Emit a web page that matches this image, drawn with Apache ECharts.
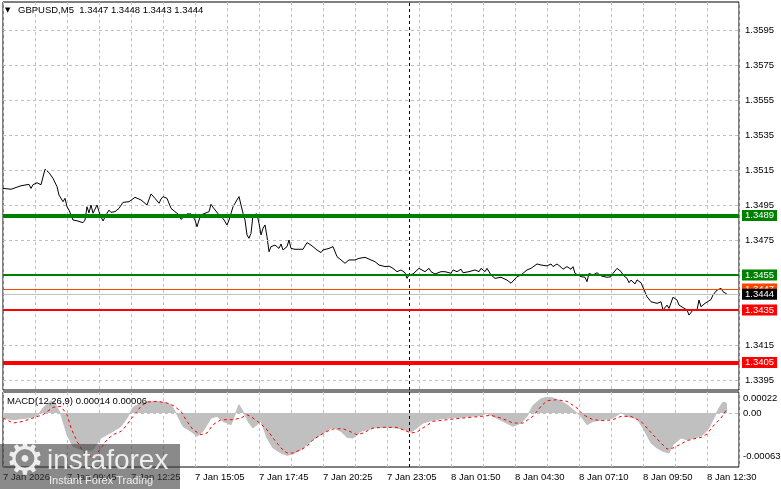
<!DOCTYPE html>
<html><head><meta charset="utf-8">
<script src="https://cdn.jsdelivr.net/npm/echarts@6/dist/echarts.min.js"></script>
<style>html,body{margin:0;padding:0;background:#fff}#c{width:781px;height:489px}</style>
</head><body><div id="c"></div>
<script>
const chartTitle = 'GBPUSD,M5  1.3447 1.3448 1.3443 1.3444';
const macdTitle = 'MACD(12,26,9) 0.00014 0.00006';
const timeLabels = ['7 Jan 2026','7 Jan 09:45','7 Jan 12:25','7 Jan 15:05','7 Jan 17:45','7 Jan 20:25','7 Jan 23:05','8 Jan 01:50','8 Jan 04:30','8 Jan 07:10','8 Jan 09:50','8 Jan 12:30'];
const barsPerLabel = 32;
const priceTicks = [1.3395,1.3415,1.3435,1.3455,1.3475,1.3495,1.3515,1.3535,1.3555,1.3575,1.3595];
const priceBars = [0,4,9,13,14,15,17,19,20,21,
23,24,25,27,28,30,31,32,33,34,
35,37,40,41,42,43,44,45,47,48,
49,50,52,53,54,56,58,60,63,64,
66,67,69,72,74,76,78,79,80,82,
83,84,88,89,92,94,96,97,98,99,
103,104,105,108,110,112,113,115,116,118,
119,120,121,122,123,124,125,126,127,128,
129,130,131,132,133,134,136,138,139,140,
142,143,144,146,150,152,154,155,157,159,
160,161,163,164,165,167,169,171,173,174,
176,178,179,181,184,186,188,189,191,193,
195,197,199,201,202,203,205,208,209,211,
213,214,216,219,221,224,225,227,229,230,
233,234,236,238,239,241,242,244,246,249,
250,252,254,255,257,259,260,262,264,267,
269,270,272,274,275,277,279,280,282,284,
285,286,289,291,292,293,295,297,299,300,
302,304,305,307,309,310,312,313,314,316,
317,319,320,322,324,325,327,329,330,332,
333,335,337,338,339,342,343,345,347,348,
349,351,352,354,355,357,359,360,362];
const priceCloses = [1.35045,1.35040,1.35060,1.35068,1.35045,1.35066,1.35077,1.35066,1.35074,1.35154,
1.35135,1.35146,1.35102,1.35055,1.35007,1.34969,1.34988,1.34940,1.34921,1.34931,
1.34864,1.34860,1.34849,1.34864,1.34940,1.34905,1.34950,1.34903,1.34950,1.34912,
1.34883,1.34859,1.34903,1.34921,1.34908,1.34912,1.34931,1.34965,1.34969,1.34960,
1.34994,1.34998,1.34979,1.34950,1.35013,1.34988,1.34960,1.34984,1.34998,1.34988,
1.34998,1.34931,1.34893,1.34868,1.34899,1.34899,1.34864,1.34826,1.34864,1.34893,
1.34912,1.34954,1.34937,1.34893,1.34874,1.34836,1.34864,1.34940,1.34960,1.34998,
1.34950,1.34903,1.34864,1.34779,1.34760,1.34788,1.34893,1.34899,1.34899,1.34845,
1.34779,1.34817,1.34836,1.34769,1.34683,1.34712,1.34721,1.34702,1.34727,1.34693,
1.34712,1.34750,1.34702,1.34697,1.34697,1.34735,1.34721,1.34712,1.34693,1.34678,
1.34693,1.34683,1.34702,1.34693,1.34712,1.34655,1.34636,1.34617,1.34636,1.34645,
1.34636,1.34645,1.34636,1.34651,1.34636,1.34626,1.34607,1.34607,1.34598,1.34601,
1.34588,1.34569,1.34579,1.34563,1.34531,1.34550,1.34556,1.34588,1.34579,1.34569,
1.34588,1.34569,1.34556,1.34569,1.34569,1.34560,1.34579,1.34569,1.34583,1.34563,
1.34569,1.34569,1.34579,1.34569,1.34588,1.34569,1.34588,1.34550,1.34531,1.34537,
1.34540,1.34521,1.34503,1.34512,1.34540,1.34550,1.34559,1.34579,1.34588,1.34613,
1.34607,1.34617,1.34602,1.34613,1.34598,1.34613,1.34595,1.34583,1.34598,1.34583,
1.34598,1.34559,1.34541,1.34537,1.34512,1.34559,1.34550,1.34563,1.34545,1.34550,
1.34537,1.34540,1.34559,1.34588,1.34570,1.34550,1.34531,1.34506,1.34521,1.34499,
1.34522,1.34506,1.34506,1.34426,1.34397,1.34407,1.34388,1.34397,1.34350,1.34378,
1.34359,1.34423,1.34407,1.34378,1.34369,1.34350,1.34321,1.34350,1.34350,1.34407,
1.34369,1.34388,1.34397,1.34410,1.34436,1.34464,1.34474,1.34455,1.34440];
const macdBars = [0,5,12,17,20,24,26,29,32,35,
39,42,45,49,52,55,59,62,65,69,
74,80,84,87,90,94,97,100,104,107,
110,114,116,118,120,123,125,129,132,135,
139,142,145,149,152,155,159,162,165,169,
172,175,179,182,187,194,199,204,207,210,
214,219,230,239,242,245,250,255,259,262,
265,269,272,275,279,282,285,289,292,295,
300,305,309,312,317,320,324,327,330,333,
335,339,342,347,350,353,355,358,360,362];
const macdValues = [-0.000073,-0.000098,-0.000073,-0.000049,0.000073,0.000181,0.000147,-0.000024,-0.000318,-0.000489,
-0.000537,-0.000562,-0.000537,-0.000366,-0.000318,-0.000269,-0.000195,-0.000073,0.000083,0.000147,
0.000171,0.000161,0.000122,-0.000024,-0.000195,-0.000269,-0.000342,-0.000269,-0.000073,-0.000049,
-0.000122,-0.000171,-0.000024,0.000122,0.000024,-0.000147,-0.000220,-0.000122,-0.000366,-0.000513,
-0.000586,-0.000620,-0.000601,-0.000537,-0.000464,-0.000391,-0.000318,-0.000259,-0.000210,-0.000269,
-0.000357,-0.000366,-0.000269,-0.000244,-0.000210,-0.000210,-0.000230,-0.000278,-0.000220,-0.000147,
-0.000112,-0.000083,-0.000059,-0.000034,-0.000005,-0.000049,-0.000122,-0.000195,-0.000147,-0.000049,
0.000112,0.000210,0.000230,0.000220,0.000171,0.000122,0.000049,-0.000049,-0.000171,-0.000122,
-0.000098,-0.000073,0.000005,-0.000049,-0.000083,-0.000220,-0.000440,-0.000513,-0.000562,-0.000586,
-0.000464,-0.000366,-0.000391,-0.000357,-0.000318,-0.000220,-0.000098,0.000073,0.000160,0.000140];
const signalBars = [0,5,10,15,20,25,29,32,34,37,
40,44,46,49,52,55,59,62,65,69,
72,77,82,85,89,92,95,99,102,105,
109,115,119,122,125,129,132,135,139,142,
145,149,152,155,159,162,165,170,174,177,
180,185,190,197,204,207,210,215,222,230,
239,244,249,255,260,265,269,272,277,282,
287,290,295,300,305,309,314,319,322,325,
329,332,335,339,342,345,349,352,355,359,362];
const signalValues = [-0.000073,-0.000147,-0.000122,-0.000073,-0.000024,0.000083,0.000098,-0.000024,-0.000220,-0.000415,
-0.000562,-0.000635,-0.000635,-0.000513,-0.000391,-0.000318,-0.000269,-0.000171,-0.000049,0.000098,
0.000161,0.000171,0.000147,0.000112,0.000024,-0.000122,-0.000244,-0.000318,-0.000293,-0.000171,
-0.000098,-0.000098,-0.000073,-0.000024,-0.000073,-0.000161,-0.000244,-0.000366,-0.000513,-0.000586,
-0.000586,-0.000537,-0.000489,-0.000391,-0.000318,-0.000269,-0.000234,-0.000230,-0.000278,-0.000318,
-0.000293,-0.000220,-0.000210,-0.000210,-0.000293,-0.000278,-0.000220,-0.000122,-0.000098,-0.000073,
-0.000049,-0.000034,-0.000073,-0.000147,-0.000147,-0.000049,0.000098,0.000181,0.000195,0.000171,
0.000073,-0.000024,-0.000098,-0.000112,-0.000098,-0.000049,-0.000049,-0.000122,-0.000220,-0.000318,
-0.000440,-0.000528,-0.000513,-0.000454,-0.000405,-0.000381,-0.000357,-0.000308,-0.000195,-0.000073,0.000060];
const greenLevels = [1.3489, 1.3455];
const redLevels = [1.3435, 1.3405];
const askPrice = 1.3447;
const bidPrice = 1.3444;
const macdMaxLabel = 0.00022;
const macdMinLabel = -0.00063;
const daySeparatorBar = 203;

const FONT = '"Liberation Sans", Arial, sans-serif';
const chart = echarts.init(document.getElementById('c'), null, {renderer: 'canvas'});

const tickLine = v => ({yAxis: v, lineStyle: {color: '#c0c0c0', type: [3, 3], width: 1},
  label: {show: true, position: 'end', distance: 6, formatter: () => v.toFixed(4), color: '#000', fontSize: 9.5, fontFamily: FONT}});
const levelLine = (v, color, width, bg) => ({yAxis: v, lineStyle: {color: color, type: 'solid', width: width},
  label: {show: true, position: 'end', distance: 3, formatter: () => v.toFixed(4), color: '#fff', fontSize: 9.5, fontFamily: FONT,
    backgroundColor: bg, padding: [1, 3, 0, 3], lineHeight: 10}});

const levelData = [];
levelData.push(levelLine(askPrice, '#ff4500', 1, '#ff4500'));
levelData.push(levelLine(bidPrice, '#c0c0c0', 1, '#000'));
greenLevels.forEach((v, i) => levelData.push(levelLine(v, '#008000', i === 0 ? 4 : 2, '#008000')));
redLevels.forEach((v, i) => levelData.push(levelLine(v, '#ff0000', i === 0 ? 2 : 4, '#ff0000')));

const sepLine = {xAxis: daySeparatorBar, lineStyle: {color: '#000', type: [3, 3], width: 1}, label: {show: false}};
const hiddenLabel = (v, txt) => ({yAxis: v, lineStyle: {color: 'rgba(0,0,0,0)', width: 1, type: 'solid'},
  label: {show: true, position: 'end', distance: 4, formatter: () => txt, color: '#000', fontSize: 9.5, fontFamily: FONT}});

const option = {
  animation: false,
  backgroundColor: '#fff',
  grid: [
    {left: 3, top: 2, width: 736, height: 388, show: true, borderColor: '#000', borderWidth: 1, backgroundColor: 'transparent'},
    {left: 3, top: 392, width: 736, height: 75, show: true, borderColor: '#000', borderWidth: 1, backgroundColor: 'transparent'}
  ],
  xAxis: [
    {gridIndex: 0, type: 'value', min: 0, max: 368, interval: 16,
      axisLine: {show: false}, axisTick: {show: false}, axisLabel: {show: false},
      splitLine: {show: true, lineStyle: {color: '#c0c0c0', type: [3, 3], width: 1}}},
    {gridIndex: 1, type: 'value', min: 0, max: 368, interval: 16,
      axisLine: {show: false}, axisTick: {show: false},
      axisLabel: {show: true, align: 'left', margin: 5, fontSize: 9.5, fontFamily: FONT, color: '#000',
        showMinLabel: true, showMaxLabel: false,
        formatter: v => (v % barsPerLabel === 0 && timeLabels[v / barsPerLabel]) ? timeLabels[v / barsPerLabel] : ''},
      splitLine: {show: true, lineStyle: {color: '#c0c0c0', type: [3, 3], width: 1}}}
  ],
  yAxis: [
    {gridIndex: 0, type: 'value', min: 1.338929, max: 1.3611, position: 'right',
      axisLine: {show: false}, axisTick: {show: false}, axisLabel: {show: false}, splitLine: {show: false}},
    {gridIndex: 1, type: 'value', min: -0.000791, max: 0.000308, position: 'right',
      axisLine: {show: false}, axisTick: {show: false}, axisLabel: {show: false}, splitLine: {show: false}}
  ],
  series: [
    {type: 'line', xAxisIndex: 0, yAxisIndex: 0, data: [], z: 1, silent: true,
      markLine: {silent: true, precision: 8, symbol: ['none', 'none'], animation: false,
        data: priceTicks.map(tickLine).concat([sepLine])}},
    {type: 'line', xAxisIndex: 0, yAxisIndex: 0, z: 3, silent: true,
      data: priceBars.map((b, i) => [b, priceCloses[i]]),
      showSymbol: false, symbol: 'none', lineStyle: {color: '#000', width: 1}},
    {type: 'line', xAxisIndex: 0, yAxisIndex: 0, data: [], z: 5, silent: true,
      markLine: {silent: true, precision: 8, symbol: ['none', 'none'], animation: false, data: levelData}},
    {type: 'line', xAxisIndex: 1, yAxisIndex: 1, z: 2, silent: true,
      data: macdBars.map((b, i) => [b, macdValues[i]]),
      showSymbol: false, symbol: 'none', lineStyle: {color: '#c0c0c0', width: 1},
      areaStyle: {color: '#c0c0c0', opacity: 1},
      markLine: {silent: true, precision: 8, symbol: ['none', 'none'], animation: false,
        data: [
          {yAxis: 0, lineStyle: {color: '#c0c0c0', type: [3, 3], width: 1},
            label: {show: true, position: 'end', distance: 4, formatter: () => '0.00', color: '#000', fontSize: 9.5, fontFamily: FONT}},
          hiddenLabel(macdMaxLabel, macdMaxLabel.toFixed(5)),
          hiddenLabel(macdMinLabel, macdMinLabel.toFixed(5)),
          sepLine
        ]}},
    {type: 'line', xAxisIndex: 1, yAxisIndex: 1, z: 4, silent: true,
      data: signalBars.map((b, i) => [b, signalValues[i]]),
      showSymbol: false, symbol: 'none', lineStyle: {color: '#ff0000', width: 1, type: [3, 3]}}
  ],
  graphic: [
    {type: 'text', x: 5, y: 10, z: 50, style: {text: '▼', fill: '#000', font: '7px "DejaVu Sans"', verticalAlign: 'middle'}},
    {type: 'text', x: 18, y: 10, z: 50, style: {text: chartTitle, fill: '#000', font: '9.5px ' + FONT, verticalAlign: 'middle'}},
    {type: 'text', x: 7, y: 401, z: 50, style: {text: macdTitle, fill: '#000', font: '9.5px ' + FONT, verticalAlign: 'middle'}},
    {type: 'rect', z: 100, shape: {x: 0, y: 444, width: 180, height: 45}, style: {fill: 'rgba(60,60,60,0.6)'}},
    {type: 'text', x: 25, y: 463, z: 101, style: {text: '⚙', fill: 'rgba(255,255,255,0.85)', font: '44px "DejaVu Sans"', align: 'center', verticalAlign: 'middle'}},
    {type: 'text', x: 47, y: 461, z: 101, style: {text: 'instaforex', fill: 'rgba(255,255,255,0.85)', font: '28px ' + FONT, verticalAlign: 'middle'}},
    {type: 'text', x: 49, y: 481, z: 101, style: {text: 'Instant Forex Trading', fill: 'rgba(255,255,255,0.85)', font: '11px ' + FONT, verticalAlign: 'middle'}}
  ]
};
chart.setOption(option);
</script>
</body></html>
